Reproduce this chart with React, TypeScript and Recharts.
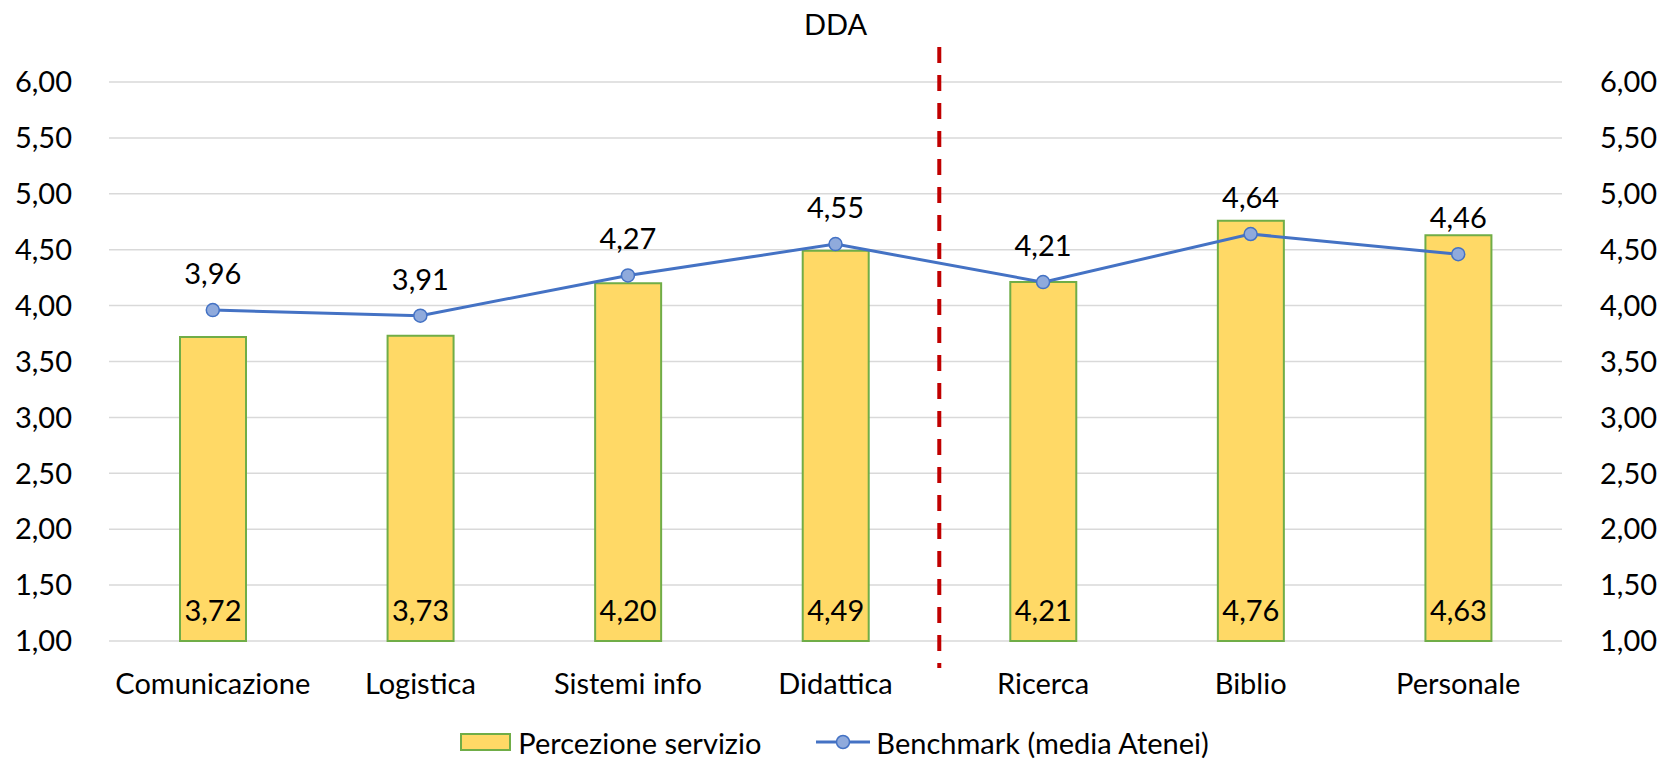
import { ComposedChart, Bar, Line, XAxis, YAxis, CartesianGrid, Legend, LabelList, ReferenceLine } from 'recharts';

const categories = ['Comunicazione', 'Logistica', 'Sistemi info', 'Didattica', 'Ricerca', 'Biblio', 'Personale'];
const percezione = [3.72, 3.73, 4.2, 4.49, 4.21, 4.76, 4.63];
const benchmark = [3.96, 3.91, 4.27, 4.55, 4.21, 4.64, 4.46];
const yTicks = [1, 1.5, 2, 2.5, 3, 3.5, 4, 4.5, 5, 5.5, 6];

const data = categories.map((name, i) => ({ name, percezione: percezione[i], benchmark: benchmark[i] }));

const fmt = (v: number) => v.toFixed(2).replace('.', ',');
const FONT = 'Lato, "Open Sans", sans-serif';
const FS = 29;
const tickStyle = { fill: '#000', fontSize: FS };

// dashed separator, runs a bit past the plot area top and bottom
function DashShape(props: any) {
    const { x1, y1, x2, y2 } = props;
    const top = Math.min(y1, y2);
    const bottom = Math.max(y1, y2);
    return <line x1={x1} x2={x2} y1={top - 35} y2={bottom + 27} stroke="#C00000" strokeWidth={4} strokeDasharray="16 12" />;
}

function LegendContent() {
    return (
        <div style={{ height: 58, display: 'flex', justifyContent: 'center', alignItems: 'flex-end', fontSize: FS, color: '#000', paddingLeft: 6, boxSizing: 'border-box' }}>
            <div style={{ display: 'flex', alignItems: 'center', marginRight: 55, height: 30, marginBottom: 2 }}>
                <div style={{ width: 47, height: 14, background: '#FFD966', border: '2px solid #70AD47', marginRight: 7 }} />
                <span>Percezione servizio</span>
            </div>
            <div style={{ display: 'flex', alignItems: 'center', height: 30, marginBottom: 2 }}>
                <svg width={54} height={20} style={{ marginRight: 6 }}>
                    <line x1={0} x2={54} y1={10} y2={10} stroke="#4472C4" strokeWidth={3} />
                    <circle cx={27} cy={10} r={6.5} fill="#8FAADC" stroke="#4472C4" strokeWidth={1.5} />
                </svg>
                <span>Benchmark (media Atenei)</span>
            </div>
        </div>
    );
}

export default function App() {
    return (
        <div style={{ position: 'absolute', left: 0, top: 0, width: 1663, height: 759, background: '#fff', fontFamily: FONT }}>
            <div style={{ position: 'absolute', top: 9, left: 0, width: 1671, textAlign: 'center', fontSize: FS, lineHeight: '29px', color: '#000' }}>DDA</div>
            <ComposedChart width={1663} height={759} data={data} margin={{ top: 82, right: 0, bottom: 0, left: 0 }}>
                <CartesianGrid vertical={false} stroke="#D9D9D9" strokeWidth={1.5} yAxisId="left" />
                <XAxis dataKey="name" axisLine={false} tickLine={false} tickSize={0} tickMargin={32} height={60} tick={tickStyle} interval={0} />
                <YAxis yAxisId="left" domain={[1, 6]} ticks={yTicks} tickFormatter={fmt} width={109} axisLine={false} tickLine={false} tickSize={0} tickMargin={37} tick={tickStyle} />
                <YAxis yAxisId="right" orientation="right" domain={[1, 6]} ticks={yTicks} tickFormatter={fmt} width={101} axisLine={false} tickLine={false} tickSize={0} tickMargin={38} tick={tickStyle} />
                <Bar yAxisId="left" dataKey="percezione" name="Percezione servizio" barSize={66} fill="#FFD966" stroke="#70AD47" strokeWidth={2} isAnimationActive={false}>
                    <LabelList dataKey="percezione" position="insideBottom" offset={20} formatter={(v: any) => fmt(Number(v))} style={{ fill: '#000', fontSize: FS }} />
                </Bar>
                <Line yAxisId="right" dataKey="benchmark" name="Benchmark (media Atenei)" stroke="#4472C4" strokeWidth={3} dot={{ r: 6.5, fill: '#8FAADC', stroke: '#4472C4', strokeWidth: 1.5 }} isAnimationActive={false}>
                    <LabelList dataKey="benchmark" position="top" offset={26} formatter={(v: any) => fmt(Number(v))} style={{ fill: '#000', fontSize: FS }} />
                </Line>
                <ReferenceLine yAxisId="left" x="Didattica" position="end" ifOverflow="visible" shape={DashShape} />
                <Legend verticalAlign="bottom" content={LegendContent} />
            </ComposedChart>
        </div>
    );
}
